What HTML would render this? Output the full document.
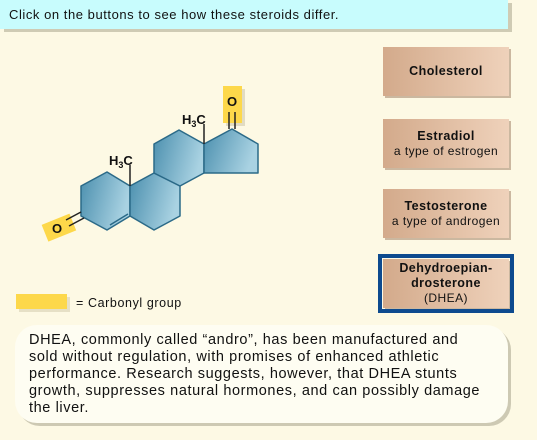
<!DOCTYPE html>
<html><head><meta charset="utf-8"><style>
body{margin:0;width:537px;height:440px;background:#fdf9e4;font-family:"Liberation Sans",Arial,sans-serif;position:relative;overflow:hidden}
.top{position:absolute;left:0;top:0;width:508px;height:29px;background:#c8fcfd;box-shadow:4px 3px 0 #cfcbb4;font-size:13px;letter-spacing:.55px;line-height:29px;padding-left:9px;box-sizing:border-box;color:#111}
.btn{position:absolute;left:383px;width:126px;height:49px;background:linear-gradient(90deg,#d3aa8b,#efd2bb);box-shadow:2px 2px 0 #cbb8a0;text-align:center;font-size:12px;color:#111;display:flex;flex-direction:column;justify-content:center;letter-spacing:.45px;line-height:15px}
.btn b{font-size:12.5px}
.sel{outline:4px solid #0d4a8e;outline-offset:1px}
.legend{position:absolute;left:16px;top:294px;width:51px;height:15px;background:#fdd84a;box-shadow:3px 3px 0 #e6e0c6}
.ltxt{position:absolute;left:76px;top:296px;font-size:12.5px;letter-spacing:.6px;color:#111}
.box{position:absolute;left:15px;top:325px;width:493px;height:98px;background:#fefdf2;border-radius:22px;box-shadow:3px 3px 0 #cdc9b3;box-sizing:border-box;padding:7px 0 0 14px;font-size:14.5px;line-height:17px;letter-spacing:.6px;color:#111;white-space:nowrap}
</style></head><body>
<div class="top">Click on the buttons to see how these steroids differ.</div>
<svg width="537" height="440" style="position:absolute;left:0;top:0">
<defs><linearGradient id="g" x1="0" y1="0" x2="1" y2="0.3"><stop offset="0" stop-color="#4b8fae"/><stop offset="1" stop-color="#a9d2e2"/></linearGradient></defs>
<rect x="226" y="89" width="19" height="37" fill="#e2dcc2"/>
<rect x="223" y="86" width="19" height="37" fill="#fdd84a"/>
<rect x="44" y="219" width="30" height="18" fill="#fdd84a" transform="rotate(-22 58 228)"/>
<g fill="url(#g)" stroke="#2b6a88" stroke-width="1.5" stroke-linejoin="round">
<polygon points="107,172 81,186 81,216 107,230 130,216 130,186"/>
<polygon points="130,186 154,173 180,186 180,216 154,230 130,216"/>
<polygon points="154,173 154,144 179,130 204,144 204,173 180,186"/>
<polygon points="204,144 232,129 258,144 258,173 204,173"/>
</g>
<g stroke="#222" stroke-width="1.5" fill="none">
<line x1="130" y1="186" x2="130" y2="165"/>
<line x1="204" y1="144" x2="204" y2="124"/>
<line x1="229" y1="129" x2="229" y2="112"/><line x1="235" y1="129" x2="235" y2="112"/>
<line x1="81" y1="212" x2="66" y2="220"/><line x1="84" y1="218" x2="69" y2="226"/>
</g>
<line x1="110" y1="225" x2="128" y2="214" stroke="#2b6a88" stroke-width="1.5"/>
<g font-family="Liberation Sans,Arial,sans-serif" font-weight="bold" font-size="13" fill="#111">
<text x="227" y="106">O</text>
<text x="52" y="233">O</text>
<text x="109" y="165">H<tspan font-size="9" dy="3">3</tspan><tspan dy="-3">C</tspan></text>
<text x="182" y="124">H<tspan font-size="9" dy="3">3</tspan><tspan dy="-3">C</tspan></text>
</g>
</svg>
<div class="btn" style="top:47px"><b>Cholesterol</b></div>
<div class="btn" style="top:119px"><b>Estradiol</b><span>a type of estrogen</span></div>
<div class="btn" style="top:189px"><b>Testosterone</b><span>a type of androgen</span></div>
<div class="btn sel" style="top:259px;left:383px;height:49px"><b>Dehydroepian-</b><b>drosterone</b><span>(DHEA)</span></div>
<div class="legend"></div>
<div class="ltxt">= Carbonyl group</div>
<div class="box">DHEA, commonly called “andro”, has been manufactured and<br>sold without regulation, with promises of enhanced athletic<br>performance. Research suggests, however, that DHEA stunts<br>growth, suppresses natural hormones, and can possibly damage<br>the liver.</div>
</body></html>
